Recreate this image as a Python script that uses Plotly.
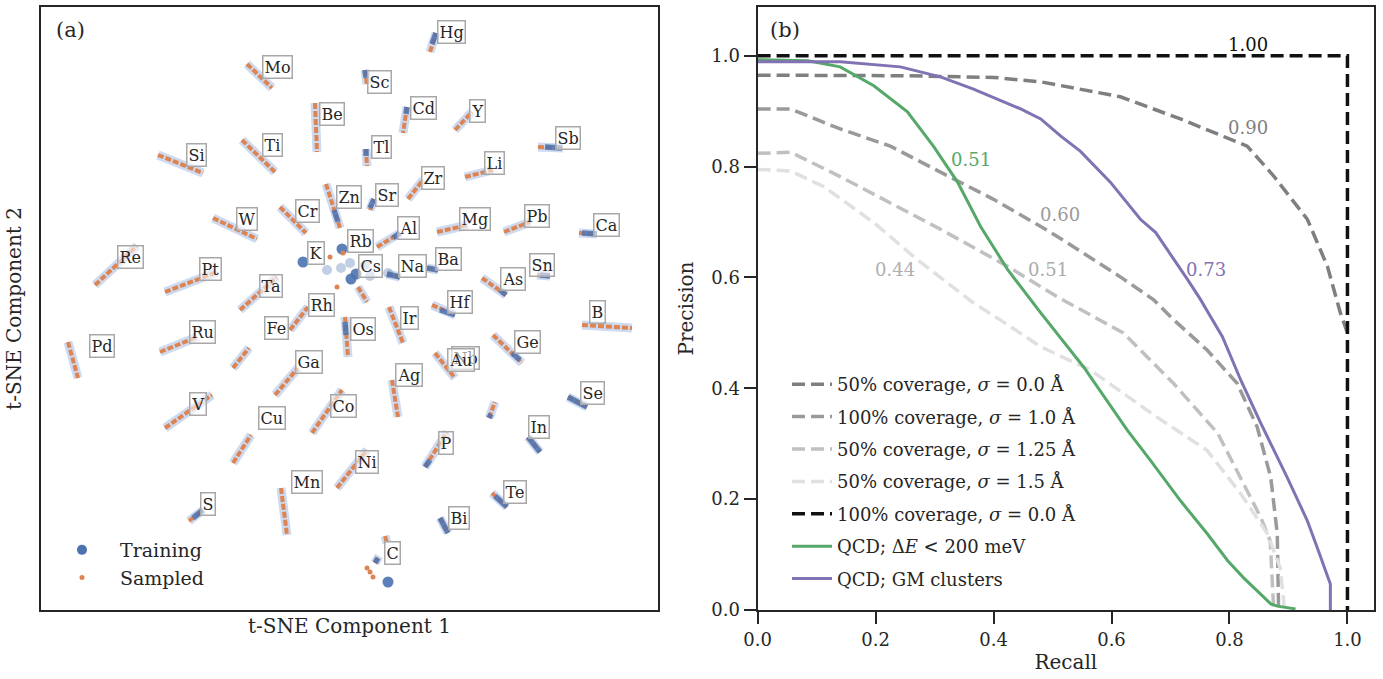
import plotly.graph_objects as go

FONT = "DejaVu Serif"
BLUE = "#4c72b0"
ORANGE = "#dd8452"
INK = "#262626"

# ---------------- panel (a): t-SNE embedding ----------------
# streaks of embedded structures per element (start / end in t-SNE units)
streak_el = ["Mo", "Hg", "Sc", "Be", "Cd", "Y", "Ti", "Si", "Tl", "Sb", "Li", "Zr", "Zn", "Sr",
             "Cr", "W", "Mg", "Pb", "Ca", "Al", "Re", "Pt", "Na", "Ba", "Sn", "As", "Ta", "Rh",
             "Hf", "Ir", "Os", "B", "Fe", "Pd", "Ru", "Ge", "Au", "Ga", "Ag", "Co", "V", "Se",
             "Nb", "Cu", "In", "P", "Ni", "Mn", "Te", "S", "Bi", "C", "C", "Cs"]
streak_x0 = [247, 430, 365, 315, 407, 455, 242, 158, 366, 538, 465, 408, 326, 370,
             280, 213, 437, 504, 579, 377, 95, 165, 387, 427, 537, 482, 240, 290,
             432, 389, 345, 582, 233, 68, 160, 493, 435, 275, 392, 312, 165, 568,
             489, 233, 528, 425, 337, 281, 492, 189, 440, 385, 375, 358]
streak_y0 = [64, 52, 70, 103, 107, 130, 140, 155, 149, 147, 177, 199, 184, 210,
             207, 218, 232, 232, 233, 247, 285, 292, 274, 268, 275, 278, 310, 330,
             305, 307, 317, 325, 368, 342, 352, 335, 353, 395, 380, 433, 428, 397,
             418, 463, 437, 467, 488, 488, 493, 521, 518, 536, 563, 287]
streak_x1 = [272, 436, 367, 317, 403, 472, 275, 203, 367, 563, 493, 423, 340, 374,
             306, 257, 468, 530, 597, 400, 137, 217, 400, 438, 550, 506, 277, 308,
             455, 403, 348, 632, 249, 78, 197, 522, 455, 298, 398, 342, 212, 587,
             495, 251, 540, 447, 367, 287, 507, 203, 448, 387, 379, 367]
streak_y1 = [88, 33, 84, 152, 133, 112, 172, 173, 166, 148, 170, 180, 228, 199,
             233, 239, 225, 222, 234, 233, 246, 272, 277, 270, 276, 295, 277, 307,
             315, 343, 357, 328, 348, 378, 337, 363, 378, 368, 417, 390, 395, 407,
             402, 435, 452, 432, 450, 535, 507, 510, 533, 543, 556, 302]

# dense training-set parts of the streaks
train_x0 = [432, 365, 407, 366, 545, 370, 334, 582, 393, 387, 427, 540, 440, 500, 568, 528,
            495, 440, 193, 512, 375, 425, 489, 345]
train_y0 = [44, 70, 107, 149, 147, 208, 210, 233, 238, 274, 268, 275, 310, 290, 397, 437,
            496, 518, 518, 353, 563, 467, 418, 322]
train_x1 = [436, 366, 406, 366, 562, 374, 338, 597, 400, 400, 438, 550, 455, 506, 587, 540,
            507, 448, 203, 520, 378, 430, 491, 346]
train_y1 = [33, 78, 114, 156, 148, 199, 222, 234, 233, 277, 270, 276, 315, 295, 407, 452,
            507, 533, 510, 360, 558, 460, 414, 335]

# isolated training structures
train_dot_x = [303, 342, 356, 351, 388]
train_dot_y = [262, 249, 274, 279, 582]
train_faint_x = [350, 341, 327, 365, 370, 388]
train_faint_y = [263, 268, 270, 265, 276, 273]
# isolated sampled structures
samp_dot_x = [330, 343, 337, 367, 373, 370]
samp_dot_y = [257, 253, 287, 568, 577, 572]

# element labels
label_el = ["Hg", "Mo", "Sc", "Be", "Cd", "Y", "Ti", "Si", "Tl", "Sb", "Li", "Zr", "Zn", "Sr",
            "Cr", "W", "Mg", "Pb", "Ca", "Al", "Re", "Pt", "K", "Rb", "Cs", "Na", "Ba", "Sn",
            "As", "Ta", "Rh", "Hf", "Ir", "Os", "B", "Fe", "Pd", "Ru", "Ge", "Nb", "Au", "Ga",
            "Ag", "Co", "V", "Se", "Cu", "In", "P", "Ni", "Mn", "Te", "S", "Bi", "C"]
label_x = [451, 277, 379, 332, 423, 477, 272, 196, 381, 568, 494, 433, 349, 387,
           307, 247, 475, 537, 606, 408, 130, 210, 316, 360, 370, 412, 448, 542,
           513, 271, 321, 460, 409, 363, 597, 276, 102, 202, 527, 465, 461, 309,
           409, 343, 198, 592, 272, 539, 446, 367, 307, 515, 208, 459, 392]
label_y = [32, 67, 82, 114, 108, 111, 145, 155, 147, 138, 163, 178, 197, 195,
           211, 219, 219, 216, 225, 228, 257, 269, 253, 241, 266, 266, 259, 265,
           279, 286, 305, 302, 318, 329, 312, 328, 346, 332, 342, 358, 360, 362,
           375, 406, 404, 393, 418, 427, 443, 462, 482, 492, 504, 518, 553]

# ---------------- panel (b): precision / recall ----------------
r_090 = [0, 0.10, 0.25, 0.40, 0.48, 0.615, 0.717, 0.83, 0.875, 0.932, 0.966, 0.988, 1.0]
p_090 = [0.965, 0.965, 0.964, 0.961, 0.953, 0.926, 0.886, 0.837, 0.783, 0.705, 0.62, 0.536, 0.50]
r_060 = [0, 0.056, 0.14, 0.225, 0.31, 0.40, 0.48, 0.508, 0.615, 0.671, 0.705, 0.762, 0.813,
         0.847, 0.87, 0.881, 0.883, 0.883]
p_060 = [0.904, 0.904, 0.868, 0.837, 0.79, 0.741, 0.692, 0.674, 0.601, 0.56, 0.524, 0.469, 0.409,
         0.33, 0.239, 0.138, 0.016, 0.0]
r_051 = [0, 0.056, 0.14, 0.225, 0.31, 0.424, 0.508, 0.62, 0.705, 0.78, 0.819, 0.853, 0.869,
         0.875, 0.875]
p_051 = [0.824, 0.826, 0.782, 0.735, 0.687, 0.62, 0.565, 0.5, 0.409, 0.319, 0.239, 0.167, 0.125,
         0.016, 0.0]
r_044 = [0, 0.056, 0.112, 0.197, 0.271, 0.366, 0.412, 0.48, 0.564, 0.677, 0.762, 0.819, 0.864,
         0.886, 0.892, 0.892]
p_044 = [0.795, 0.792, 0.764, 0.699, 0.632, 0.554, 0.523, 0.475, 0.433, 0.348, 0.288, 0.21, 0.138,
         0.076, 0.016, 0.0]
r_100 = [0, 1.0, 1.0]
p_100 = [1.0, 1.0, 0.0]
r_qcd = [0, 0.085, 0.14, 0.197, 0.254, 0.298, 0.339, 0.378, 0.424, 0.48, 0.553, 0.627, 0.666,
         0.717, 0.762, 0.797, 0.824, 0.853, 0.87, 0.881, 0.912]
p_qcd = [0.993, 0.991, 0.98, 0.946, 0.899, 0.837, 0.772, 0.692, 0.614, 0.536, 0.438, 0.324, 0.27,
         0.197, 0.138, 0.089, 0.058, 0.029, 0.011, 0.007, 0.002]
r_gm = [0, 0.14, 0.242, 0.31, 0.366, 0.446, 0.48, 0.514, 0.547, 0.598, 0.649, 0.675, 0.729,
        0.751, 0.768, 0.788, 0.819, 0.853, 0.898, 0.932, 0.949, 0.971, 0.971]
p_gm = [0.989, 0.989, 0.98, 0.962, 0.94, 0.904, 0.886, 0.855, 0.828, 0.772, 0.705, 0.681, 0.596,
        0.56, 0.529, 0.493, 0.415, 0.337, 0.239, 0.161, 0.112, 0.047, 0.0]

curve_names = ["50% coverage, <i>σ</i> = 0.0 Å", "100% coverage, <i>σ</i> = 1.0 Å",
               "50% coverage, <i>σ</i> = 1.25 Å", "50% coverage, <i>σ</i> = 1.5 Å",
               "100% coverage, <i>σ</i> = 0.0 Å", "QCD; Δ<i>E</i> &lt; 200 meV",
               "QCD; GM clusters"]
curve_r = [r_090, r_060, r_051, r_044, r_100, r_qcd, r_gm]
curve_p = [p_090, p_060, p_051, p_044, p_100, p_qcd, p_gm]
curve_color = ["#7f7f7f", "#9a9a9a", "#c0c0c0", "#e0e0e0", "#111111", "#55a868", "#8172b3"]
curve_dash = ["13px,6px"] * 5 + ["solid", "solid"]
curve_width = [3.5, 3.5, 3.5, 3.5, 3.5, 3, 3]

score_text = ["1.00", "0.90", "0.60", "0.51", "0.44", "0.51", "0.73"]
score_r = [0.831, 0.831, 0.5125, 0.492, 0.233, 0.362, 0.760]
score_p = [1.02, 0.870, 0.713, 0.614, 0.614, 0.812, 0.614]
score_color = ["#111111", "#7f7f7f", "#9a9a9a", "#ababab", "#b0b0b0", "#55a868", "#8172b3"]

# ---------------- figure ----------------
fig = go.Figure()


def seg_xy(x0, y0, x1, y1):
    xs, ys = [], []
    for a, b, c, d in zip(x0, y0, x1, y1):
        xs += [a, c, None]
        ys += [b, d, None]
    return xs, ys


sx, sy = seg_xy(streak_x0, streak_y0, streak_x1, streak_y1)
tx, ty = seg_xy(train_x0, train_y0, train_x1, train_y1)

fig.add_trace(go.Scatter(x=sx, y=sy, mode="lines", xaxis="x", yaxis="y",
                         line=dict(color="rgba(100,140,205,0.32)", width=9),
                         showlegend=False, hoverinfo="skip"))
fig.add_trace(go.Scatter(x=sx, y=sy, mode="lines", xaxis="x", yaxis="y",
                         line=dict(color=ORANGE, width=4, dash="6px,2px"),
                         showlegend=False, hoverinfo="skip"))
fig.add_trace(go.Scatter(x=tx, y=ty, mode="lines", xaxis="x", yaxis="y",
                         line=dict(color="rgba(76,114,176,0.85)", width=5.5),
                         showlegend=False, hoverinfo="skip"))
fig.add_trace(go.Scatter(x=train_faint_x, y=train_faint_y, mode="markers", xaxis="x", yaxis="y",
                         marker=dict(color="rgba(76,114,176,0.35)", size=10),
                         showlegend=False, hoverinfo="skip"))
fig.add_trace(go.Scatter(x=train_dot_x, y=train_dot_y, mode="markers", xaxis="x", yaxis="y",
                         marker=dict(color="rgba(76,114,176,0.9)", size=11),
                         showlegend=False, hoverinfo="skip"))
fig.add_trace(go.Scatter(x=samp_dot_x, y=samp_dot_y, mode="markers", xaxis="x", yaxis="y",
                         marker=dict(color=ORANGE, size=5),
                         showlegend=False, hoverinfo="skip"))
# legend entries for panel (a)
fig.add_trace(go.Scatter(x=[None], y=[None], mode="markers", xaxis="x", yaxis="y",
                         marker=dict(color=BLUE, size=10), name="Training", legend="legend"))
fig.add_trace(go.Scatter(x=[None], y=[None], mode="markers", xaxis="x", yaxis="y",
                         marker=dict(color=ORANGE, size=5), name="Sampled", legend="legend"))

for i in range(len(curve_names)):
    fig.add_trace(go.Scatter(x=curve_r[i], y=curve_p[i], mode="lines", xaxis="x2", yaxis="y2",
                             name=curve_names[i], legend="legend2", legendgroup=f"g{i}",
                             line=dict(color=curve_color[i], width=curve_width[i],
                                       dash=curve_dash[i])))

annotations = []
for el, lx, ly in zip(label_el, label_x, label_y):
    annotations.append(dict(x=lx, y=ly, xref="x", yref="y", text=el, showarrow=False,
                            font=dict(family=FONT, size=16, color=INK),
                            bgcolor="rgba(255,255,255,0.55)", bordercolor="#a8a8a8",
                            borderwidth=1.5, borderpad=1))
for t, r, p, c in zip(score_text, score_r, score_p, score_color):
    annotations.append(dict(x=r, y=p, xref="x2", yref="y2", text=t, showarrow=False,
                            font=dict(family=FONT, size=18, color=c)))
annotations.append(dict(x=70 / 1383, y=1 - 30 / 679, xref="paper", yref="paper", text="(a)",
                        xanchor="center", yanchor="middle",
                        showarrow=False, font=dict(family=FONT, size=21, color=INK)))
annotations.append(dict(x=785 / 1383, y=1 - 30 / 679, xref="paper", yref="paper", text="(b)",
                        xanchor="center", yanchor="middle",
                        showarrow=False, font=dict(family=FONT, size=21, color=INK)))

ydom = [1 - 610 / 679, 1 - 7 / 679]
axis_common = dict(showgrid=False, zeroline=False, showline=True, mirror=True,
                   linecolor=INK, linewidth=2, automargin=False)

fig.update_layout(
    width=1383, height=679,
    margin=dict(l=0, r=0, t=0, b=0),
    paper_bgcolor="white", plot_bgcolor="white",
    font=dict(family=FONT, color=INK, size=18),
    xaxis=dict(domain=[41 / 1383, 658 / 1383], range=[41, 658], showticklabels=False, ticks="",
               title=dict(text="t-SNE Component 1", font=dict(size=20), standoff=8),
               anchor="y", **axis_common),
    yaxis=dict(domain=ydom, range=[610, 7], showticklabels=False, ticks="",
               title=dict(text="t-SNE Component 2", font=dict(size=20), standoff=12),
               anchor="x", **axis_common),
    xaxis2=dict(domain=[757.6 / 1383, 1374 / 1383], range=[0, 1.045],
                tickvals=[0, 0.2, 0.4, 0.6, 0.8, 1.0],
                ticktext=["0.0", "0.2", "0.4", "0.6", "0.8", "1.0"],
                ticks="outside", ticklen=12, tickwidth=2, tickcolor=INK,
                tickfont=dict(size=18), anchor="y2",
                title=dict(text="Recall", font=dict(size=20), standoff=6), **axis_common),
    yaxis2=dict(domain=ydom, range=[0, 1.088],
                tickvals=[0, 0.2, 0.4, 0.6, 0.8, 1.0],
                ticktext=["0.0", "0.2", "0.4", "0.6", "0.8", "1.0"],
                ticks="outside", ticklen=12, tickwidth=2, tickcolor=INK,
                tickfont=dict(size=18), anchor="x2",
                title=dict(text="Precision", font=dict(size=20), standoff=12), **axis_common),
    legend=dict(x=44 / 1383, y=1 - 531 / 679, xanchor="left", yanchor="top",
                bgcolor="rgba(0,0,0,0)", font=dict(size=19), itemwidth=66),
    legend2=dict(x=787 / 1383, y=1 - 366 / 679, xanchor="left", yanchor="top",
                 bgcolor="rgba(0,0,0,0)", font=dict(size=18), tracegroupgap=6, itemwidth=40),
    annotations=annotations,
    showlegend=True,
)

fig.write_html("out.html")
